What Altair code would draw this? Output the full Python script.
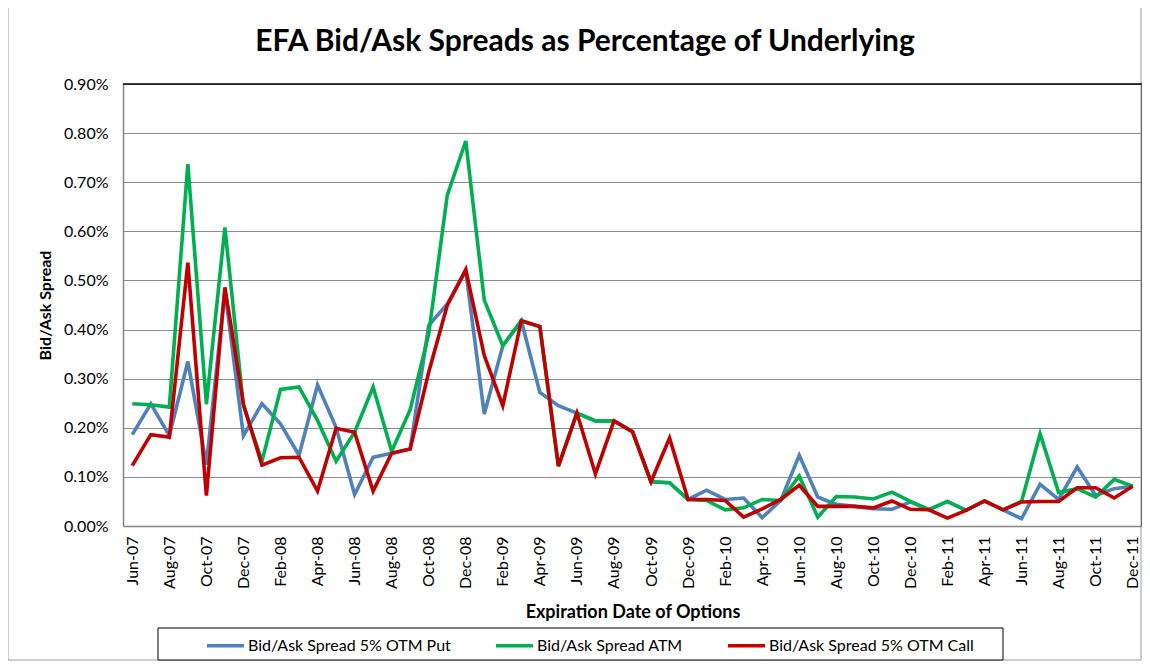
import altair as alt
import pandas as pd

months = ["Jun-07","Jul-07","Aug-07","Sep-07","Oct-07","Nov-07","Dec-07",
          "Jan-08","Feb-08","Mar-08","Apr-08","May-08","Jun-08","Jul-08","Aug-08","Sep-08","Oct-08","Nov-08","Dec-08",
          "Jan-09","Feb-09","Mar-09","Apr-09","May-09","Jun-09","Jul-09","Aug-09","Sep-09","Oct-09","Nov-09","Dec-09",
          "Jan-10","Feb-10","Mar-10","Apr-10","May-10","Jun-10","Jul-10","Aug-10","Sep-10","Oct-10","Nov-10","Dec-10",
          "Jan-11","Feb-11","Mar-11","Apr-11","May-11","Jun-11","Jul-11","Aug-11","Sep-11","Oct-11","Nov-11","Dec-11"]

tick_labels = ["Jun-07","Aug-07","Oct-07","Dec-07","Feb-08","Apr-08","Jun-08","Aug-08","Oct-08","Dec-08",
               "Feb-09","Apr-09","Jun-09","Aug-09","Oct-09","Dec-09","Feb-10","Apr-10","Jun-10","Aug-10",
               "Oct-10","Dec-10","Feb-11","Apr-11","Jun-11","Aug-11","Oct-11","Dec-11"]

# values in percent
otm_put = [0.186, 0.249, 0.184, 0.335, 0.125, 0.480, 0.184,
           0.249, 0.208, 0.144, 0.287, 0.201, 0.064, 0.140, 0.148, 0.157, 0.408, 0.452, 0.520,
           0.228, 0.367, 0.418, 0.272, 0.245, 0.230, 0.214, 0.214, 0.192, 0.090, 0.088, 0.054,
           0.073, 0.054, 0.057, 0.017, 0.052, 0.144, 0.059, 0.044, 0.040, 0.035, 0.034, 0.049,
           0.033, 0.050, 0.032, 0.051, 0.033, 0.015, 0.085, 0.054, 0.120, 0.062, 0.076, 0.081]
atm = [0.249, 0.247, 0.242, 0.737, 0.248, 0.608, 0.245,
       0.132, 0.278, 0.283, 0.215, 0.132, 0.191, 0.283, 0.152, 0.237, 0.391, 0.673, 0.784,
       0.460, 0.367, 0.418, 0.406, 0.122, 0.230, 0.214, 0.214, 0.192, 0.090, 0.088, 0.054,
       0.052, 0.033, 0.037, 0.054, 0.052, 0.102, 0.018, 0.060, 0.059, 0.055, 0.069, 0.050,
       0.034, 0.050, 0.032, 0.051, 0.033, 0.050, 0.188, 0.068, 0.076, 0.059, 0.095, 0.081]
otm_call = [0.123, 0.186, 0.181, 0.536, 0.062, 0.486, 0.248,
            0.124, 0.139, 0.140, 0.071, 0.199, 0.191, 0.071, 0.148, 0.157, 0.313, 0.449, 0.522,
            0.347, 0.245, 0.418, 0.406, 0.122, 0.230, 0.106, 0.214, 0.192, 0.090, 0.179, 0.054,
            0.054, 0.052, 0.018, 0.035, 0.054, 0.083, 0.040, 0.040, 0.040, 0.037, 0.051, 0.034,
            0.033, 0.016, 0.032, 0.051, 0.033, 0.049, 0.050, 0.050, 0.078, 0.078, 0.057, 0.081]

series_names = ["Bid/Ask Spread 5% OTM Put", "Bid/Ask Spread ATM", "Bid/Ask Spread 5% OTM Call"]
series_colors = ["#4F81BD", "#00B050", "#C00000"]
title_text = "EFA Bid/Ask Spreads as Percentage of Underlying"

rows = []
for name, vals in zip(series_names, [otm_put, atm, otm_call]):
    for m, v in zip(months, vals):
        rows.append({"month": m, "value": v, "series": name})
df = pd.DataFrame(rows)

W, H = 1019, 442
FONT = "Lato"

base = alt.Chart(df).encode(
    x=alt.X("month:O", sort=months,
            scale=alt.Scale(type="point", padding=0.5),
            axis=alt.Axis(values=tick_labels, labelAngle=-90, ticks=False,
                          labelFontSize=16, labelFont=FONT, labelColor="#000",
                          labelPadding=10, domainColor="#868686", domainWidth=1.5,
                          title="Expiration Date of Options", titleFont=FONT,
                          titleFontSize=18, titleFontWeight="bold", titleColor="#000",
                          titlePadding=15, grid=False, zindex=1)),
    y=alt.Y("value:Q", scale=alt.Scale(domain=[0, 0.9], nice=False),
            axis=alt.Axis(values=[0, 0.1, 0.2, 0.3, 0.4, 0.5, 0.6, 0.7, 0.8, 0.9],
                          labelExpr="format(datum.value, '.2f') + '%'",
                          ticks=False, labelFontSize=16, labelFont=FONT,
                          labelColor="#000", labelPadding=15,
                          domainColor="#868686", domainWidth=1.5,
                          gridColor="#8c8c8c", gridWidth=1.2,
                          title="Bid/Ask Spread", titleFont=FONT, titleFontSize=16,
                          titleFontWeight="bold", titleColor="#000",
                          titleX=-78, titleY=H / 2, titleAlign="center",
                          titleBaseline="middle", titleAngle=-90)),
    color=alt.Color("series:N", scale=alt.Scale(domain=series_names, range=series_colors),
                    legend=alt.Legend(title=None, orient="none", legendX=82, legendY=541,
                                      direction="horizontal", symbolType="stroke",
                                      symbolSize=1369, symbolStrokeWidth=3.5,
                                      labelFontSize=16, labelFont=FONT, labelColor="#000",
                                      labelOffset=2, labelLimit=400, columnPadding=38,
                                      padding=0, zindex=2)),
)

lines = [base.transform_filter(alt.datum.series == s).mark_line(strokeWidth=3.6)
         for s in series_names]

one = pd.DataFrame({"k": [0]})
title_df = pd.DataFrame({"t": [title_text]})
title_mark = alt.Chart(title_df).mark_text(
    font=FONT, fontSize=30, fontWeight="bold", color="#000",
    align="center", baseline="middle").encode(
    text="t:N", x=alt.value(462), y=alt.value(-42))
legend_box = alt.Chart(one).mark_rect(fill="white", stroke="#000", strokeWidth=1).encode(
    x=alt.value(35), x2=alt.value(880), y=alt.value(544), y2=alt.value(576))
outer_box = alt.Chart(one).mark_rect(fillOpacity=0, stroke="#9a9a9a", strokeWidth=1).encode(
    x=alt.value(-115), x2=alt.value(W - 1), y=alt.value(-77), y2=alt.value(H + 134))
top_rule = alt.Chart(one).mark_rule(color="#000", strokeWidth=1.5).encode(
    x=alt.value(0), x2=alt.value(W), y=alt.value(0))
right_rule = alt.Chart(one).mark_rule(color="#404040", strokeWidth=1.5).encode(
    x=alt.value(W), y=alt.value(0), y2=alt.value(H))

chart = alt.layer(outer_box, legend_box, title_mark, *lines, top_rule, right_rule).properties(
    width=W, height=H,
    autosize=alt.AutoSizeParams(type="none"),
    padding={"left": 115, "top": 76, "right": 0, "bottom": 135},
).configure_view(stroke=None).configure(background="white")

chart.save("out.html", embed_options={"renderer": "svg", "actions": False})
